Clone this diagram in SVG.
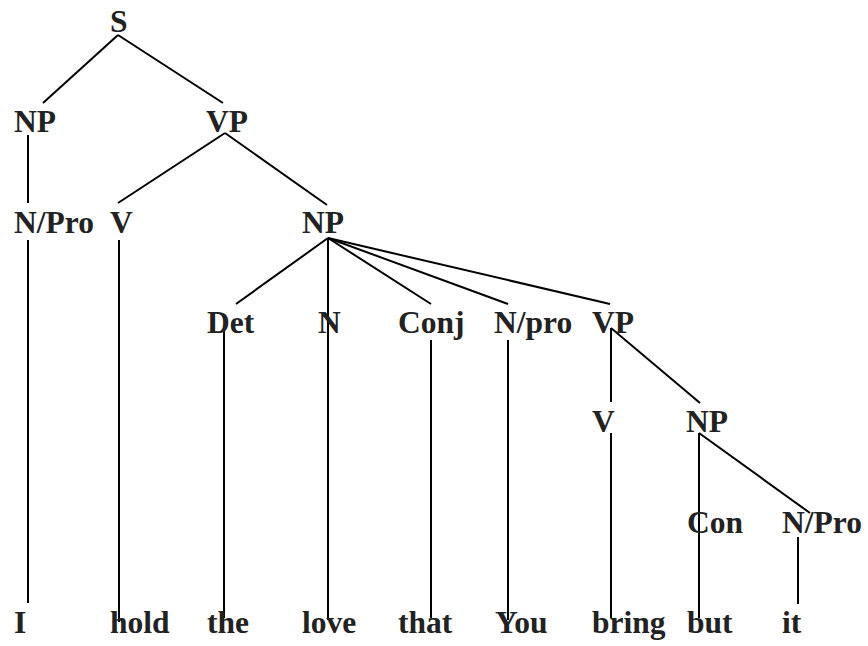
<svg xmlns="http://www.w3.org/2000/svg" width="868" height="646" viewBox="0 0 868 646">
<style>
text{font-family:"Liberation Serif","Times New Roman",serif;font-weight:bold;font-size:31.5px;fill:#222}
.c line{stroke:#000;stroke-width:2;fill:none}
</style>
<rect width="868" height="646" fill="#fff"/>
<g id="connectors" class="c">
<line x1="118" y1="35" x2="43" y2="103"/>
<line x1="118" y1="35" x2="223" y2="103"/>
<line x1="28" y1="135" x2="28" y2="203"/>
<line x1="225" y1="133" x2="118" y2="203"/>
<line x1="225" y1="133" x2="327" y2="205"/>
<line x1="28" y1="240" x2="28" y2="603"/>
<line x1="119" y1="240" x2="119" y2="622"/>
<line x1="328" y1="238" x2="236" y2="304"/>
<line x1="328" y1="238" x2="328" y2="620"/>
<line x1="328" y1="238" x2="431" y2="304"/>
<line x1="328" y1="238" x2="508" y2="304"/>
<line x1="328" y1="238" x2="610" y2="304"/>
<line x1="224" y1="330" x2="224" y2="618"/>
<line x1="431" y1="340" x2="431" y2="618"/>
<line x1="508" y1="340" x2="508" y2="620"/>
<line x1="611" y1="328" x2="611" y2="402"/>
<line x1="611" y1="328" x2="700" y2="403"/>
<line x1="611" y1="433" x2="611" y2="618"/>
<line x1="699" y1="433" x2="699" y2="618"/>
<line x1="699" y1="433" x2="810" y2="513"/>
<line x1="798" y1="537" x2="798" y2="604"/>
</g>
<g id="S"><text x="110" y="32">S</text></g>
<g id="NP1"><text x="14" y="132">NP</text></g>
<g id="VP1"><text x="206" y="132">VP</text></g>
<g id="NPro1"><text x="14" y="233">N/Pro</text></g>
<g id="V1"><text x="110" y="233">V</text></g>
<g id="NP2"><text x="302" y="233">NP</text></g>
<g id="Det"><text x="207" y="333">Det</text></g>
<g id="N"><text x="318" y="333">N</text></g>
<g id="Conj"><text x="398" y="333">Conj</text></g>
<g id="Npro"><text x="494" y="333">N/pro</text></g>
<g id="VP2"><text x="592" y="333">VP</text></g>
<g id="V2"><text x="592" y="432">V</text></g>
<g id="NP3"><text x="686" y="432">NP</text></g>
<g id="Con"><text x="687" y="533">Con</text></g>
<g id="NPro2"><text x="782" y="533">N/Pro</text></g>
<g id="w-I"><text x="14" y="633">I</text></g>
<g id="w-hold"><text x="110" y="633">hold</text></g>
<g id="w-the"><text x="207" y="633">the</text></g>
<g id="w-love"><text x="302" y="633">love</text></g>
<g id="w-that"><text x="398" y="633">that</text></g>
<g id="w-You"><text x="495" y="633">You</text></g>
<g id="w-bring"><text x="592" y="633">bring</text></g>
<g id="w-but"><text x="687" y="633">but</text></g>
<g id="w-it"><text x="782" y="633">it</text></g>
</svg>
